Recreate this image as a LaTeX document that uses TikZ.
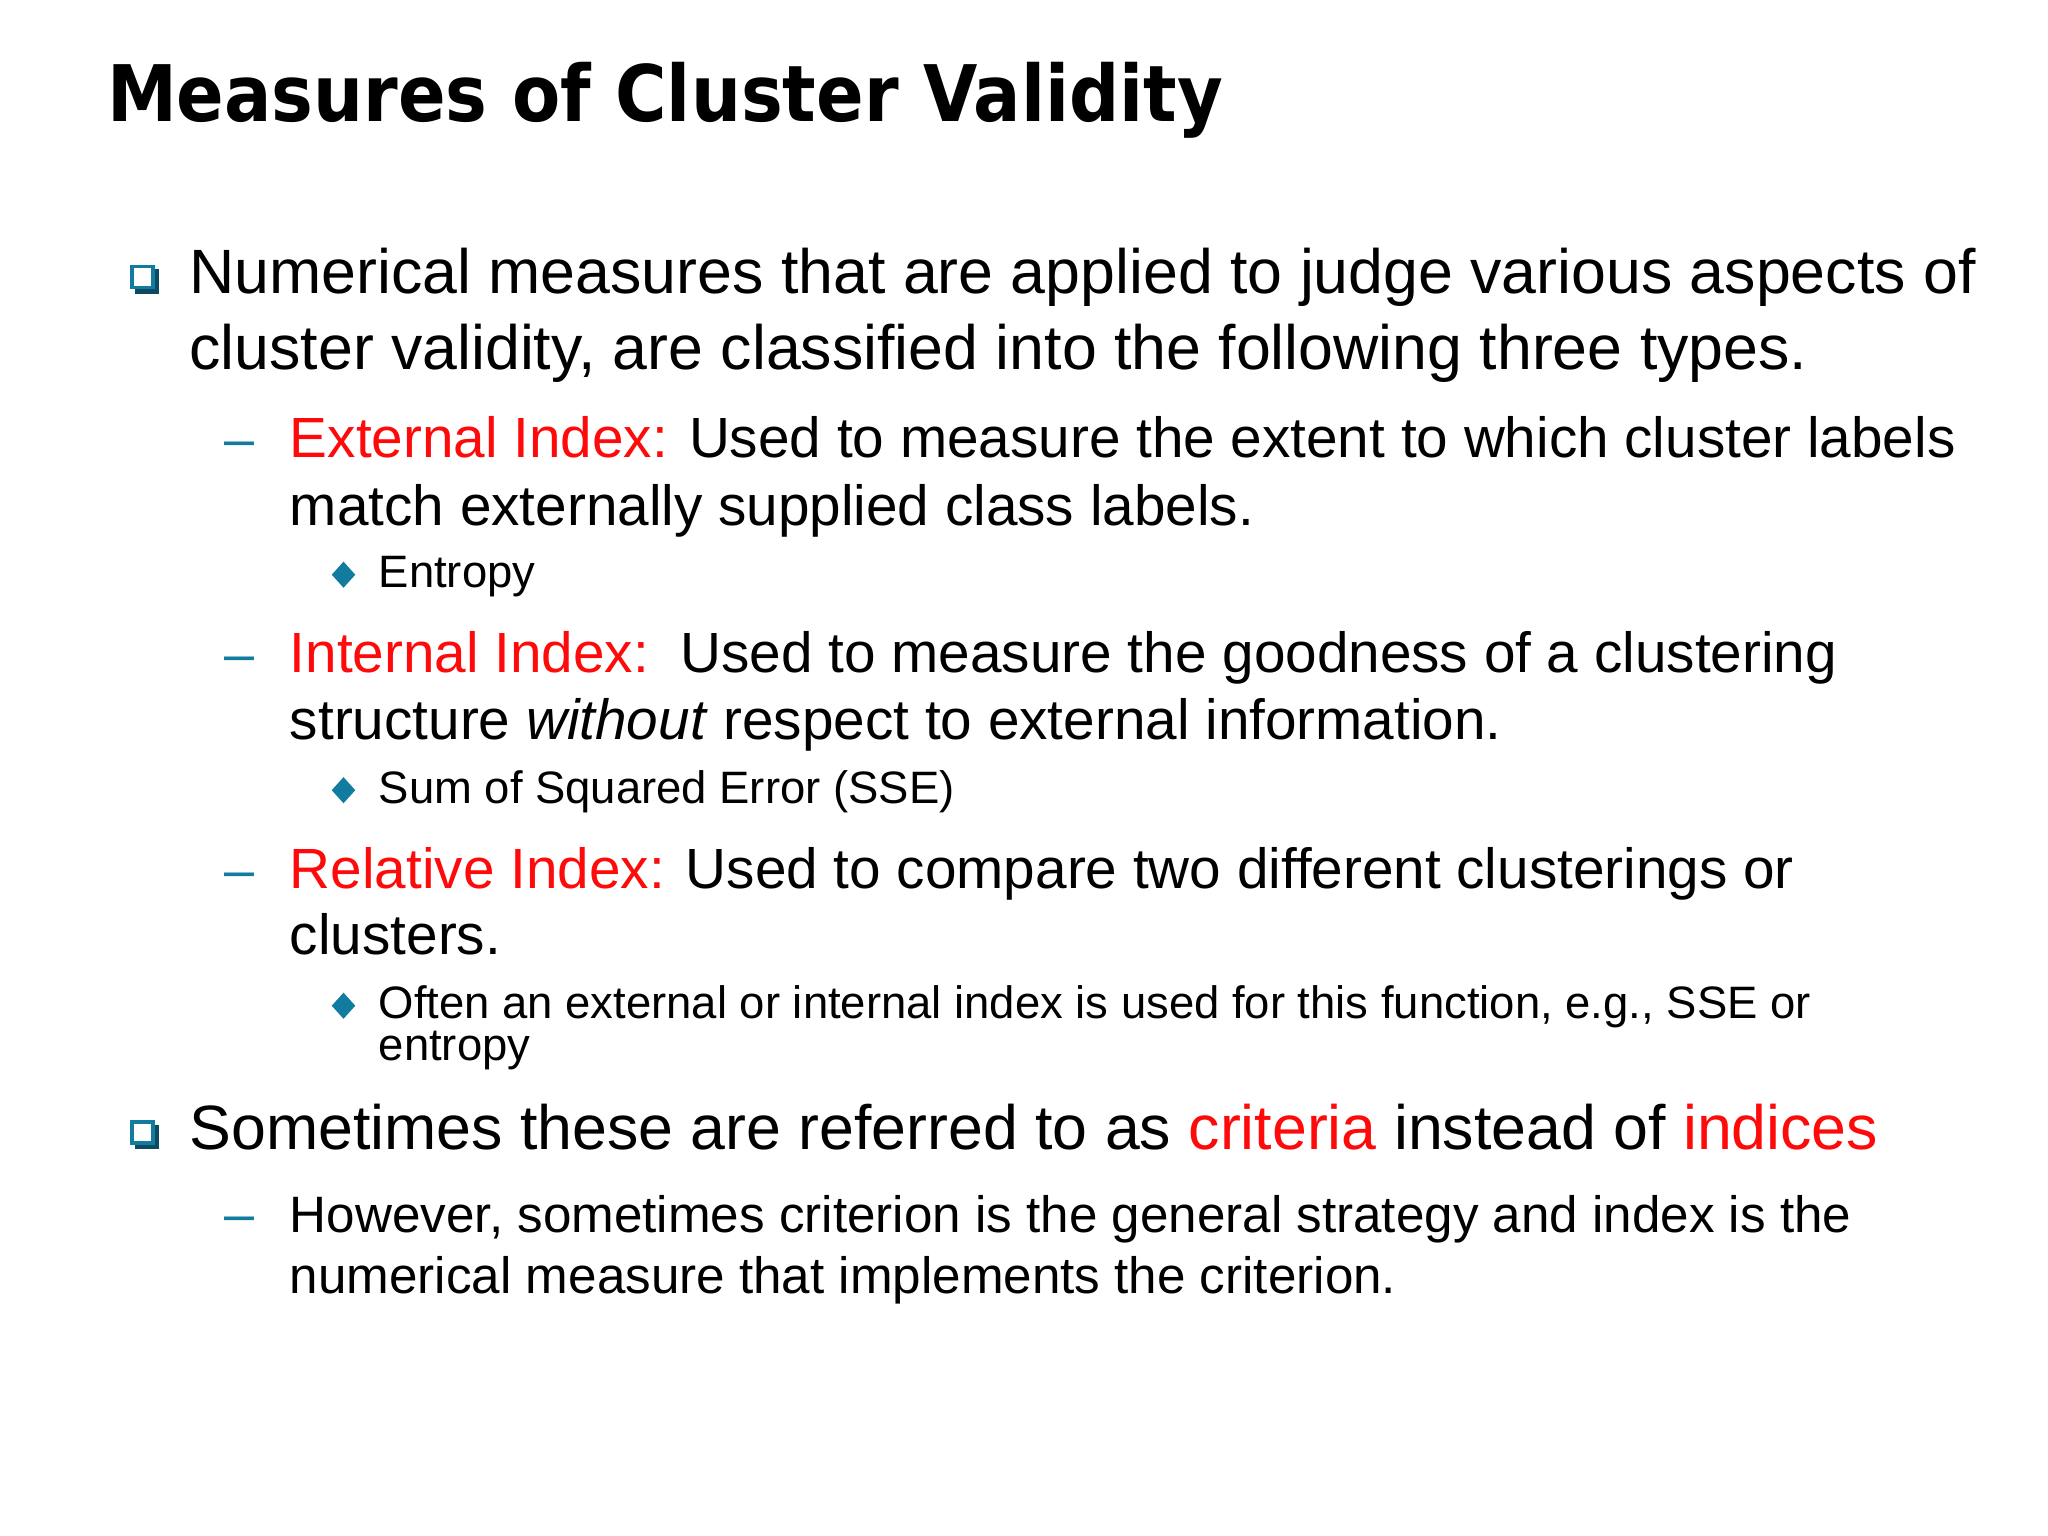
\documentclass[tikz,border=0pt]{standalone}
\usepackage{fontspec}
\setmainfont{Liberation Sans}
\newfontfamily\titlefont{DejaVu Sans}
\definecolor{teal1}{RGB}{18,124,160}
\definecolor{red1}{RGB}{255,10,10}
\begin{document}
\begin{tikzpicture}[x=0.02cm,y=-0.02cm,
  t/.style={anchor=base west,inner sep=0pt,outer sep=0pt},
  lA/.style={t,font=\fontsize{27.3}{30}\selectfont},
  lB/.style={t,font=\fontsize{24.7}{28}\selectfont},
  lC/.style={t,font=\fontsize{19.8}{22}\selectfont},
  lD/.style={t,font=\fontsize{22.3}{26}\selectfont},
  dashmark/.style={t,font=\fontsize{23.5}{28}\selectfont,text=teal1}]
\useasboundingbox (0,0) rectangle (1568,1176);
\fill[white] (0,0) rectangle (1568,1176);
\node[t,xscale=0.9,font=\titlefont\bfseries\fontsize{34}{40}\selectfont] (title) at (82,93) {Measures of Cluster Validity};
% square bullets
\foreach \n/\y in {b1/213,b2/868}{
  \fill[teal1!60!black] (103,\y-7) rectangle (122,\y+12);
  \fill[white] (100,\y-10) rectangle (118,\y+8);
  \draw[teal1,line width=1.6pt] (101,\y-9) rectangle (117,\y+7);
}
\node[lA] (a1) at (145,225) {Numerical measures that are applied to judge various aspects of};
\node[lA] (a2) at (145,283) {cluster validity, are classified into the following three types.};
\node[dashmark] (d1) at (172,350) {--};
\node[lB] (e1) at (222,350) {\textcolor{red1}{External Index:} Used to measure the extent to which cluster labels};
\node[lB] (e2) at (222,402) {match externally supplied class labels.};
\node[lC] (e3) at (290,450) {Entropy};
\node[dashmark] (d2) at (172,515) {--};
\node[lB] (i1) at (222,515) {\textcolor{red1}{Internal Index:}\ \ Used to measure the goodness of a clustering};
\node[lB] (i2) at (222,566) {structure \textit{without} respect to external information.};
\node[lC] (i3) at (290,615) {Sum of Squared Error (SSE)};
\node[dashmark] (d3) at (172,680) {--};
\node[lB] (r1) at (222,680) {\textcolor{red1}{Relative Index:} Used to compare two different clusterings or};
\node[lB] (r2) at (222,731) {clusters.};
\node[lC] (r3) at (290,780) {Often an external or internal index is used for this function, e.g., SSE or};
\node[lC] (r4) at (290,812) {entropy};
\foreach \y in {440,605,770}{
  \fill[teal1] (263,\y-10) -- (272,\y) -- (263,\y+10) -- (254,\y) -- cycle;
}
\node[lA] (s1) at (145,880) {Sometimes these are referred to as \textcolor{red1}{criteria} instead of \textcolor{red1}{indices}};
\node[dashmark] (d4) at (172,944) {--};
\node[lD] (h1) at (222,944) {However, sometimes criterion is the general strategy and index is the};
\node[lD] (h2) at (222,990) {numerical measure that implements the criterion.};
\end{tikzpicture}
\end{document}
